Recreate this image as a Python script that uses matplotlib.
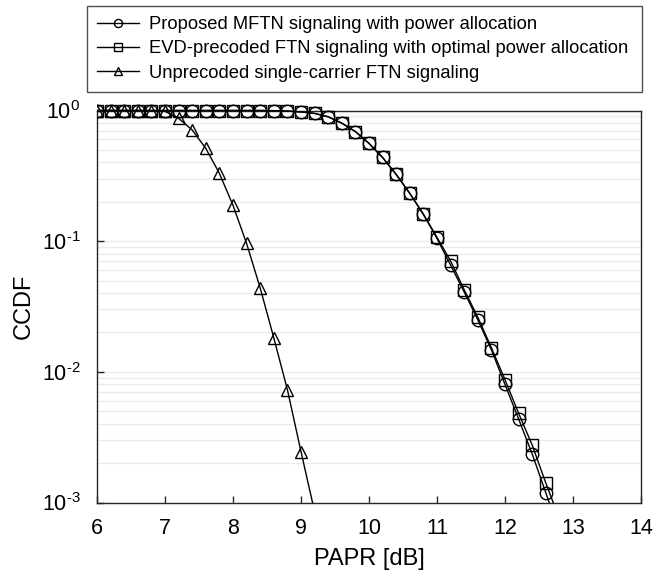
import numpy as np
import matplotlib
matplotlib.use("Agg")
import matplotlib.pyplot as plt
from matplotlib.patches import Rectangle
from matplotlib.ticker import LogLocator, NullFormatter

plt.rcParams['font.family'] = ['Liberation Sans', 'DejaVu Sans']
plt.rcParams['mathtext.fontset'] = 'custom'
plt.rcParams['mathtext.rm'] = 'Liberation Sans'
plt.rcParams['mathtext.it'] = 'Liberation Sans:italic'
plt.rcParams['mathtext.bf'] = 'Liberation Sans:bold'

# ---- data ----
papr_mc = [6.0, 6.2, 6.4, 6.6, 6.8, 7.0, 7.2, 7.4, 7.6, 7.8, 8.0, 8.2, 8.4,
           8.6, 8.8, 9.0, 9.2, 9.4, 9.6, 9.8, 10.0, 10.2, 10.4, 10.6, 10.8,
           11.0, 11.2, 11.4, 11.6, 11.8, 12.0, 12.2, 12.4, 12.6, 12.8]
ccdf_proposed = [1.0, 1.0, 1.0, 1.0, 1.0, 1.0, 1.0, 1.0, 1.0, 1.0, 1.0, 1.0, 1.0,
                 0.997, 0.99, 0.975, 0.95, 0.895, 0.80, 0.69, 0.56, 0.437, 0.324,
                 0.232, 0.160, 0.105, 0.0655, 0.0408, 0.0250, 0.01475, 0.0080,
                 0.00436, 0.00235, 0.00119, 0.00059]
ccdf_evd = [1.0, 1.0, 1.0, 1.0, 1.0, 1.0, 1.0, 1.0, 1.0, 1.0, 1.0, 1.0, 1.0,
            0.997, 0.99, 0.975, 0.95, 0.895, 0.80, 0.69, 0.56, 0.437, 0.324,
            0.232, 0.161, 0.107, 0.0705, 0.0425, 0.0262, 0.0153, 0.0087,
            0.00482, 0.00275, 0.00141, 0.00075]
papr_sc = [6.0, 6.2, 6.4, 6.6, 6.8, 7.0, 7.2, 7.4, 7.6, 7.8, 8.0, 8.2, 8.4,
           8.6, 8.8, 9.0, 9.2]
ccdf_unprecoded = [1.0, 1.0, 1.0, 1.0, 0.995, 0.985, 0.87, 0.71, 0.513, 0.33,
                   0.188, 0.096, 0.0438, 0.0182, 0.0073, 0.00245, 0.00085]

labels = ['Proposed MFTN signaling with power allocation',
          'EVD-precoded FTN signaling with optimal power allocation',
          'Unprecoded single-carrier FTN signaling']
xticks = [6, 7, 8, 9, 10, 11, 12, 13, 14]
yticks = [1e-3, 1e-2, 1e-1, 1e0]
ytick_labels = ['$\\mathregular{10^{\u20103}}$', '$\\mathregular{10^{\u20102}}$',
                '$\\mathregular{10^{\u20101}}$', '$\\mathregular{10^{0}}$']

# ---- figure ----
W, H = 654, 580
fig = plt.figure(figsize=(W / 100, H / 100), dpi=100)
ax = fig.add_axes([97 / W, 1 - 502.5 / H, (641 - 97) / W, (502.5 - 110.5) / H])

ax.set_yscale('log')
ax.set_xlim(6, 14)
ax.set_ylim(1e-3, 1)

clip = Rectangle((0, 0), 1, 1.2, transform=ax.transAxes, facecolor='none',
                 edgecolor='none')
ax.add_patch(clip)

series = [(papr_mc, ccdf_proposed, 'o'),
          (papr_mc, ccdf_evd, 's'),
          (papr_sc, ccdf_unprecoded, '^')]
handles = []
for (xs, ys, m), lab in zip(series, labels):
    ln, = ax.plot(xs, ys, color='black', lw=1.0, marker=m,
                  markersize=9 if m != 's' else 8.5,
                  markerfacecolor='none', markeredgecolor='black',
                  markeredgewidth=1.0, label=lab, zorder=3)
    ln.set_clip_path(clip)
    handles.append(ln)

# grid
ax.yaxis.set_minor_locator(LogLocator(base=10, subs=np.arange(2, 10)))
ax.yaxis.set_minor_formatter(NullFormatter())
ax.grid(True, which='both', axis='y', color='#ebebeb', lw=1.0)
ax.grid(False, axis='x')
ax.set_axisbelow(True)

ax.set_xticks(xticks)
ax.set_xticklabels([str(t) for t in xticks])
ax.set_yticks(yticks)
ax.set_yticklabels(ytick_labels)
ax.tick_params(axis='both', which='major', direction='in', length=5, width=1,
               labelsize=15.5, color='#262626')
ax.tick_params(axis='y', which='minor', length=0)
ax.tick_params(axis='x', pad=11)
ax.tick_params(axis='y', pad=12)

for s in ax.spines.values():
    s.set_color('#262626')
    s.set_linewidth(1.0)

ax.set_xlabel('PAPR [dB]', fontsize=17, labelpad=7)
ax.set_ylabel('CCDF', fontsize=17, labelpad=5)

leg = fig.legend(handles=handles, labels=labels, loc='upper left',
                 bbox_to_anchor=(87 / W, 1 - 6 / H, (642 - 87) / W, 0),
                 mode='expand', fontsize=13.2, frameon=True, fancybox=False,
                 edgecolor='#262626', handlelength=2.3, handletextpad=0.55,
                 labelspacing=0.4, borderpad=0.55, markerscale=0.65,
                 borderaxespad=0)
leg.get_frame().set_linewidth(1.0)
leg.get_frame().set_facecolor('white')

fig.savefig('out.png', dpi=100)
